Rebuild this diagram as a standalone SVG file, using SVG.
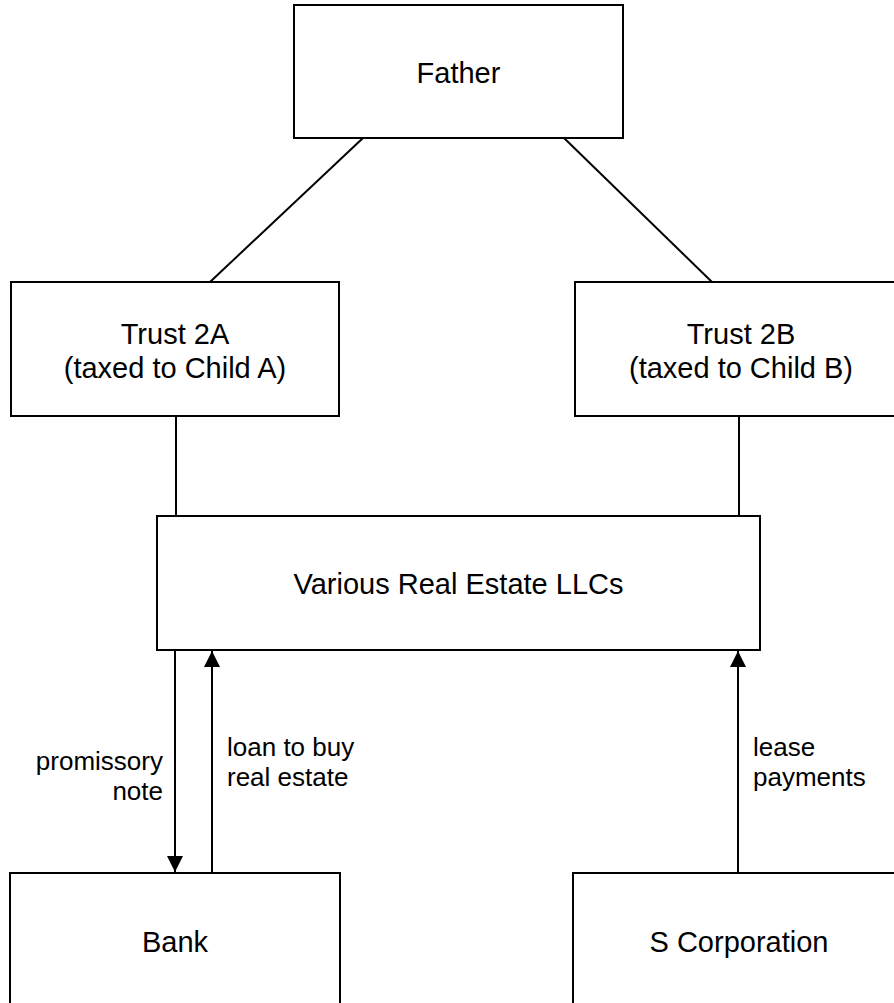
<svg xmlns="http://www.w3.org/2000/svg" width="894" height="1003" viewBox="0 0 894 1003">
<defs>
<style>
.box{fill:#fff;stroke:#000;stroke-width:2}
.ln{stroke:#000;stroke-width:2;fill:none}
.t{font-family:"Liberation Sans",Arial,sans-serif;font-size:29px;fill:#000;text-anchor:middle}
.l{font-family:"Liberation Sans",Arial,sans-serif;font-size:26px;fill:#000}
</style>
<marker id="ah" viewBox="0 0 10 10" refX="10" refY="5" markerWidth="16" markerHeight="16" markerUnits="userSpaceOnUse" orient="auto">
<path d="M0,0 L10,5 L0,10 z" fill="#000"/>
</marker>
</defs>
<rect width="894" height="1003" fill="#fff"/>
<g id="connectors">
<line class="ln" x1="363" y1="138" x2="210" y2="282"/>
<line class="ln" x1="564" y1="138" x2="712" y2="282"/>
<line class="ln" x1="176" y1="416" x2="176" y2="516"/>
<line class="ln" x1="739" y1="416" x2="739" y2="516"/>
<line class="ln" x1="175" y1="650" x2="175" y2="872" marker-end="url(#ah)"/>
<line class="ln" x1="212" y1="873" x2="212" y2="651" marker-end="url(#ah)"/>
<line class="ln" x1="738" y1="873" x2="738" y2="651" marker-end="url(#ah)"/>
<text class="l" x="163" y="770" text-anchor="end">promissory</text>
<text class="l" x="163" y="800" text-anchor="end">note</text>
<text class="l" x="227" y="756">loan to buy</text>
<text class="l" x="227" y="786">real estate</text>
<text class="l" x="753" y="756">lease</text>
<text class="l" x="753" y="786">payments</text>
</g>
<g id="father">
<rect class="box" x="294" y="5" width="329" height="133"/>
<text class="t" x="458.5" y="83">Father</text>
</g>
<g id="trust2a">
<rect class="box" x="11" y="282" width="328" height="134"/>
<text class="t" x="175" y="344">Trust 2A</text>
<text class="t" x="175" y="378">(taxed to Child A)</text>
</g>
<g id="trust2b">
<rect class="box" x="575" y="282" width="332" height="134"/>
<text class="t" x="741" y="344">Trust 2B</text>
<text class="t" x="741" y="378">(taxed to Child B)</text>
</g>
<g id="llc">
<rect class="box" x="157" y="516" width="603" height="134"/>
<text class="t" x="458.5" y="594">Various Real Estate LLCs</text>
</g>
<g id="bank">
<rect class="box" x="10" y="873" width="330" height="140"/>
<text class="t" x="175" y="952">Bank</text>
</g>
<g id="scorp">
<rect class="box" x="573" y="873" width="332" height="140"/>
<text class="t" x="739" y="952">S Corporation</text>
</g>
</svg>
